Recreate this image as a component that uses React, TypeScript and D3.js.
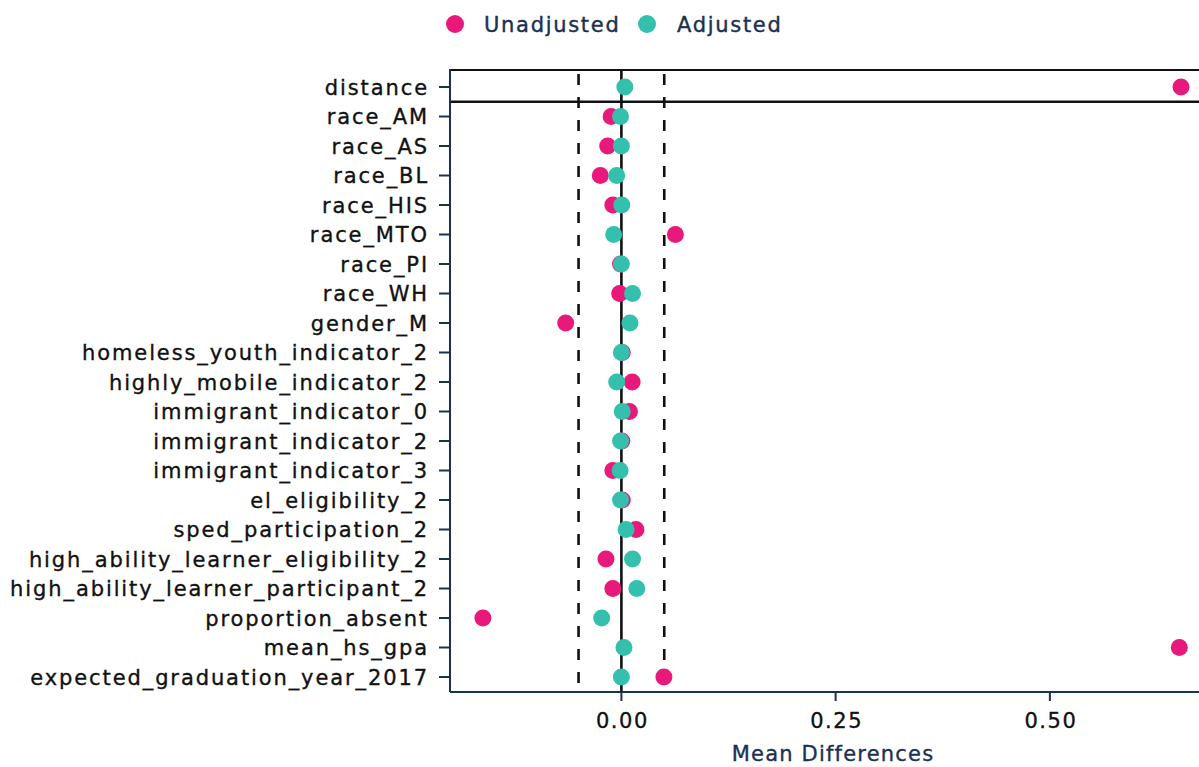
import React from "react";
import * as d3 from "d3";

const variables = [
  "distance",
  "race_AM",
  "race_AS",
  "race_BL",
  "race_HIS",
  "race_MTO",
  "race_PI",
  "race_WH",
  "gender_M",
  "homeless_youth_indicator_2",
  "highly_mobile_indicator_2",
  "immigrant_indicator_0",
  "immigrant_indicator_2",
  "immigrant_indicator_3",
  "el_eligibility_2",
  "sped_participation_2",
  "high_ability_learner_eligibility_2",
  "high_ability_learner_participant_2",
  "proportion_absent",
  "mean_hs_gpa",
  "expected_graduation_year_2017",
];

const unadjusted = [
  0.653, -0.012, -0.016, -0.0246, -0.01, 0.063, -0.001, -0.002, -0.065, 0.001,
  0.0125, 0.0094, 0.0005, -0.01, 0.001, 0.017, -0.018, -0.01, -0.1616, 0.651,
  0.0496,
];

const adjusted = [
  0.004, -0.001, 0.0, -0.0055, 0.0004, -0.009, 0.0, 0.013, 0.01, 0.0, -0.0055,
  0.001, -0.001, -0.0015, -0.001, 0.0055, 0.013, 0.018, -0.023, 0.003, 0.0,
];

const xTicks = [0, 0.25, 0.5];
const thresholds = [-0.05, 0.05];
const seriesNames = ["Unadjusted", "Adjusted"];
const seriesColors = ["#e8197a", "#35bfad"];

const W = 1199;
const H = 767;
const left = 450;
const right = 1199;
const top = 70;
const bottom = 692;

export default function App() {
  const x = d3.scaleLinear().domain([-0.2, 0.674]).range([left, right]);
  const y = d3.scalePoint<string>().domain(variables).range([87, 677]);
  const navy = "#1b3151";
  const font = "'DejaVu Sans', sans-serif";
  const sepY = ((y(variables[0]) as number) + (y(variables[1]) as number)) / 2;
  const r = 8.5;

  return (
    <svg
      width={W}
      height={H}
      style={{ position: "absolute", left: 0, top: 0, background: "#fff" }}
      fontFamily={font}
    >
      {/* legend */}
      <g stroke={navy} strokeWidth={0.4}>
        <circle cx={455} cy={24} r={9} fill={seriesColors[0]} stroke="none" />
        <text x={484} y={32} fontSize={21} fill={navy} letterSpacing={1.7}>
          {seriesNames[0]}
        </text>
        <circle cx={647} cy={24} r={9} fill={seriesColors[1]} stroke="none" />
        <text x={677} y={32} fontSize={21} fill={navy} letterSpacing={1.7}>
          {seriesNames[1]}
        </text>
      </g>

      {/* panel lines */}
      <line x1={left} x2={right} y1={top} y2={top} stroke="#111" strokeWidth={2} />
      <line x1={left} x2={right} y1={sepY} y2={sepY} stroke="#111" strokeWidth={2.5} />
      {thresholds.map((t) => (
        <line
          key={t}
          x1={x(t)}
          x2={x(t)}
          y1={top}
          y2={bottom}
          stroke="#111"
          strokeWidth={2.6}
          strokeDasharray="11 12"
          strokeDashoffset={-4}
        />
      ))}
      <line x1={x(0)} x2={x(0)} y1={top} y2={bottom} stroke="#111" strokeWidth={2.6} />

      {/* axes */}
      <line x1={left} x2={left} y1={top - 1} y2={bottom} stroke={navy} strokeWidth={2} />
      <line x1={left} x2={right} y1={bottom} y2={bottom} stroke={navy} strokeWidth={2} />
      {variables.map((v) => (
        <g key={v}>
          <line
            x1={left - 11}
            x2={left}
            y1={y(v)}
            y2={y(v)}
            stroke={navy}
            strokeWidth={2}
          />
          <text
            x={left - 21}
            y={(y(v) as number) + 7.5}
            textAnchor="end"
            fontSize={21}
            fill="#111"
            stroke="#111"
            strokeWidth={0.35}
            letterSpacing={1.9}
          >
            {v}
          </text>
        </g>
      ))}
      {xTicks.map((t) => (
        <g key={t}>
          <line x1={x(t)} x2={x(t)} y1={bottom} y2={bottom + 9} stroke={navy} strokeWidth={2} />
          <text
            x={x(t) + 1}
            y={bottom + 36}
            textAnchor="middle"
            fontSize={21}
            fill="#111"
            stroke="#111"
            strokeWidth={0.35}
            letterSpacing={1.5}
          >
            {d3.format(".2f")(t)}
          </text>
        </g>
      ))}
      <text
        x={833}
        y={761}
        textAnchor="middle"
        fontSize={21}
        fill={navy}
        stroke={navy}
        strokeWidth={0.35}
        letterSpacing={1.2}
      >
        Mean Differences
      </text>

      {/* points */}
      {variables.map((v, i) => (
        <g key={v}>
          <circle cx={x(unadjusted[i])} cy={y(v)} r={r} fill={seriesColors[0]} />
          <circle cx={x(adjusted[i])} cy={y(v)} r={r} fill={seriesColors[1]} />
        </g>
      ))}
    </svg>
  );
}
